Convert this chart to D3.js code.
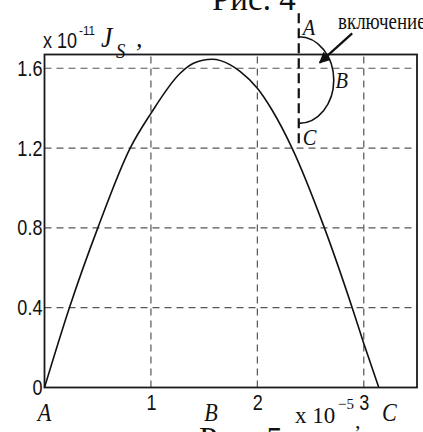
<!DOCTYPE html>
<html>
<head>
<meta charset="utf-8">
<script src="https://cdn.jsdelivr.net/npm/d3@7"></script>
<style>
  html, body { margin: 0; padding: 0; background: #fff; }
  svg { display: block; }
</style>
</head>
<body>
<svg id="chart" width="423" height="432"></svg>
<script>
// Current density J_S versus position (x 10^-5), x 10^-11
const positions = [0, 0.234, 0.501, 0.805, 1.0, 1.275, 1.40, 1.574, 1.746, 1.84, 2.0, 2.138, 2.326, 2.630, 2.891, 3.0, 3.141];
const density   = [0, 0.4,   0.8,   1.2,   1.374, 1.575, 1.625, 1.645, 1.617, 1.583, 1.50, 1.391, 1.2, 0.8, 0.4, 0.221, 0];

const xTicks = [1, 2, 3];
const yTicks = [0, 0.4, 0.8, 1.2, 1.6];
const yTickLabels = ["0", "0.4", "0.8", "1.2", "1.6"];

// points A, B, C along the curve (position on the x axis)
const pointNames = ["A", "B", "C"];
const pointPos = [0, 1.565, 3.24];

// switching-on inset: marker line, half-ellipse A→B→C and arrow (in data units)
const insetX = 2.389;
const insetLine = [1.876, 1.207];
const insetArc = { top: 1.758, bottom: 1.324, right: 2.718 };
const insetLabels = [
  { t: "A", x: 2.426, y: 1.767 },
  { t: "B", x: 2.734, y: 1.503 },
  { t: "C", x: 2.426, y: 1.216 }
];
const arrowFrom = [2.891, 1.775];
const arrowTo = [2.586, 1.628];
const arrowText = "включение";

const svg = d3.select("#chart");
const margin = { left: 44.5, right: 6, top: 54.5, bottom: 44.5 };
const W = 423, H = 432;

const x = d3.scaleLinear().domain([0, 3.5]).range([margin.left, W - margin.right]);
const y = d3.scaleLinear().domain([0, 1.669]).range([H - margin.bottom, margin.top]);

const SANS = "'Liberation Sans', Arial, sans-serif";
const SERIF = "'Liberation Serif', 'Times New Roman', serif";

function label(g, txt, px, py, opts) {
  const o = Object.assign({ size: 20, family: SERIF, sx: 1, anchor: "start", style: "normal" }, opts || {});
  return g.append("text")
    .attr("transform", `translate(${px},${py}) scale(${o.sx},1)`)
    .attr("text-anchor", o.anchor)
    .attr("font-family", o.family)
    .attr("font-size", o.size)
    .attr("font-style", o.style)
    .attr("fill", "#111")
    .text(txt);
}

// grid
const grid = svg.append("g").attr("stroke", "#555").attr("stroke-width", 1.2)
  .attr("stroke-dasharray", "7,5").attr("fill", "none");
grid.selectAll("line.v").data(xTicks).join("line")
  .attr("x1", d => x(d)).attr("x2", d => x(d))
  .attr("y1", y.range()[0]).attr("y2", y.range()[1]);
grid.selectAll("line.h").data(yTicks.filter(d => d > 0)).join("line")
  .attr("y1", d => y(d)).attr("y2", d => y(d))
  .attr("x1", x.range()[0]).attr("x2", x.range()[1]);

// axes (labels only; frame drawn separately)
const yAxis = svg.append("g").attr("transform", `translate(${margin.left},0)`)
  .call(d3.axisLeft(y).tickValues(yTicks).tickFormat((d, i) => yTickLabels[i]).tickSize(0).tickPadding(2.5));
yAxis.select(".domain").remove();
yAxis.selectAll("text")
  .attr("font-family", SANS).attr("font-size", 22).attr("fill", "#111")
  .attr("transform", "scale(0.82,1)");

const xAxis = svg.append("g").attr("transform", `translate(0,${y(0)})`)
  .call(d3.axisBottom(x).tickValues(xTicks).tickFormat(d3.format("d")).tickSize(0).tickPadding(7));
xAxis.select(".domain").remove();
xAxis.selectAll("text")
  .attr("font-family", SANS).attr("font-size", 22).attr("fill", "#111")
  .attr("transform", "scale(0.82,1)");

// frame
svg.append("rect")
  .attr("x", x.range()[0]).attr("y", y.range()[1])
  .attr("width", x.range()[1] - x.range()[0]).attr("height", y.range()[0] - y.range()[1])
  .attr("fill", "none").attr("stroke", "#1a1a1a").attr("stroke-width", 1.8);

// curve
const line = d3.line().x((d, i) => x(positions[i])).y(d => y(d)).curve(d3.curveMonotoneX);
svg.append("path").datum(density)
  .attr("d", line).attr("fill", "none").attr("stroke", "#111").attr("stroke-width", 1.6);

// point names under the x axis
pointNames.forEach((n, i) => {
  label(svg, n, x(pointPos[i]), y(0) + 33, { size: 26, style: "italic", anchor: "middle", sx: 0.85 });
});

// inset
svg.append("line")
  .attr("x1", x(insetX)).attr("x2", x(insetX))
  .attr("y1", y(insetLine[0])).attr("y2", y(insetLine[1]))
  .attr("stroke", "#111").attr("stroke-width", 2.2).attr("stroke-dasharray", "10,5");
const rx = x(insetArc.right) - x(insetX);
const ry = (y(insetArc.bottom) - y(insetArc.top)) / 2;
svg.append("path")
  .attr("d", `M${x(insetX)},${y(insetArc.top)} A${rx},${ry} 0 0 1 ${x(insetX)},${y(insetArc.bottom)}`)
  .attr("fill", "none").attr("stroke", "#111").attr("stroke-width", 1.6);
insetLabels.forEach(l => label(svg, l.t, x(l.x), y(l.y), { size: 24, style: "italic", sx: 0.85 }));

// arrow
svg.append("defs").append("marker")
  .attr("id", "head").attr("viewBox", "0 0 10 10").attr("refX", 9).attr("refY", 5)
  .attr("markerWidth", 13).attr("markerHeight", 11).attr("markerUnits", "userSpaceOnUse")
  .attr("orient", "auto")
  .append("path").attr("d", "M0,0 L10,5 L0,10 Z").attr("fill", "#111");
svg.append("line")
  .attr("x1", x(arrowFrom[0])).attr("y1", y(arrowFrom[1]))
  .attr("x2", x(arrowTo[0])).attr("y2", y(arrowTo[1]))
  .attr("stroke", "#111").attr("stroke-width", 2.2).attr("marker-end", "url(#head)");
label(svg, arrowText, 338, 29, { size: 24, sx: 0.79 });

// y multiplier and quantity
label(svg, "x 10", 43, 48, { size: 22, family: SANS, sx: 0.82 });
label(svg, "-11", 79, 35, { size: 13, family: SANS, sx: 0.9 });
label(svg, "J", 101, 47, { size: 30, style: "italic", sx: 0.85 });
label(svg, "S", 116, 58, { size: 22, style: "italic", sx: 0.85 });
label(svg, ",", 136, 47, { size: 26, style: "italic" });

// x multiplier
label(svg, "x 10", 295, 423, { size: 23 });
label(svg, "\u22125", 338, 409, { size: 15 });
label(svg, ",", 355, 428, { size: 22 });

// figure captions
label(svg, "Рис. 4", 212, 10, { size: 33 });
label(svg, "Рис. 5", 199, 450, { size: 33 });
</script>
</body>
</html>
